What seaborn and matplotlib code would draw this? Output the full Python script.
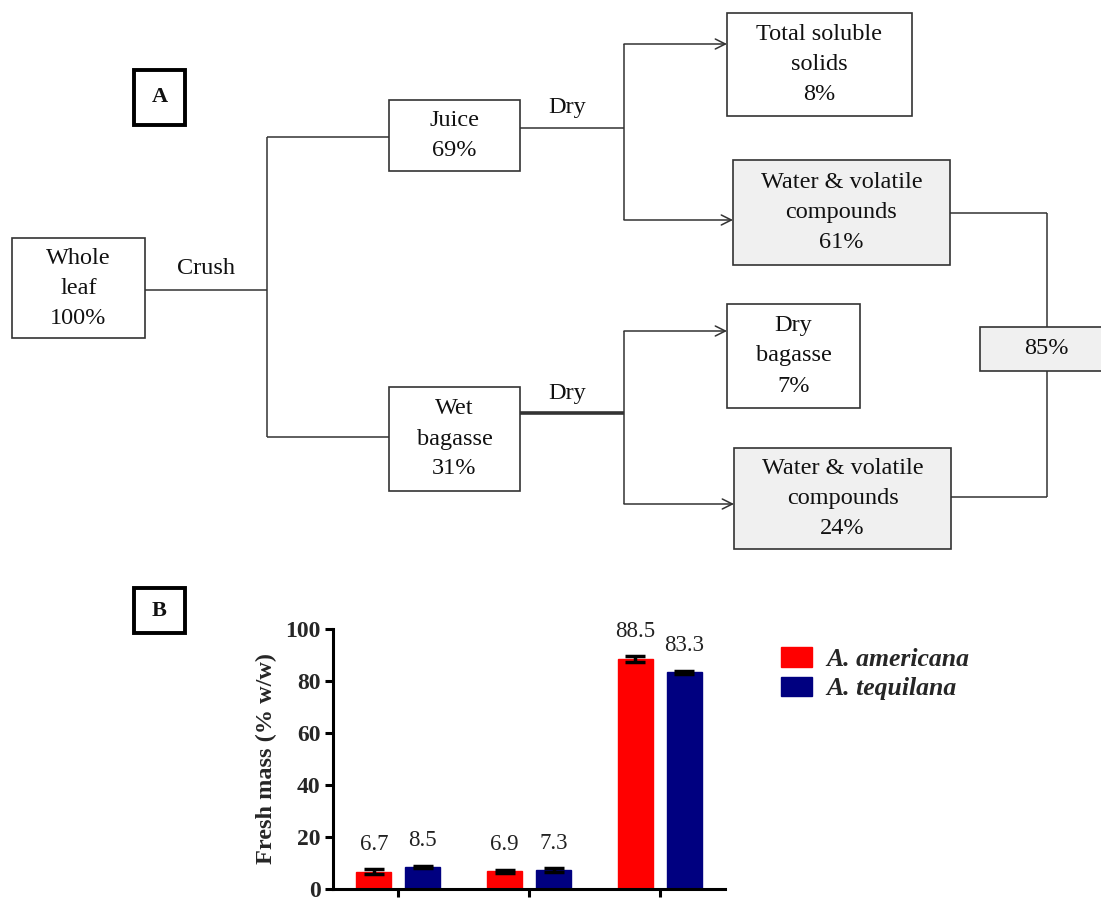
import matplotlib
matplotlib.use("Agg")
import matplotlib.pyplot as plt
import matplotlib.patches as mpatches
import numpy as np
import pandas as pd
import seaborn as sns

# ---------------- data ----------------
categories = ["Total soluble solids", "Dry bagasse", "Water & volatile"]
species = ["A. americana", "A. tequilana"]
americana_vals = [6.7, 6.9, 88.5]
tequilana_vals = [8.5, 7.3, 83.3]
americana_err = [1.0, 0.6, 1.2]
tequilana_err = [0.5, 0.8, 0.7]
palette_colors = ["#ff0000", "#000080"]
y_ticks = [0, 20, 40, 60, 80, 100]

# flow chart content
flow_whole = ["Whole", "leaf", "100%"]
flow_juice = ["Juice", "69%"]
flow_wet = ["Wet", "bagasse", "31%"]
flow_tss = ["Total soluble", "solids", "8%"]
flow_water1 = ["Water & volatile", "compounds", "61%"]
flow_drybag = ["Dry", "bagasse", "7%"]
flow_water2 = ["Water & volatile", "compounds", "24%"]
flow_total = "85%"

sns.set_theme(style="white")
plt.rcParams["font.family"] = ["Liberation Serif", "DejaVu Serif"]

fig = plt.figure(figsize=(11.01, 9.17), dpi=100)
fig.patch.set_facecolor("white")

# ---------------- panel A: flow chart (pixel coordinates) ----------------
fa = fig.add_axes([0, 0, 1, 1])
fa.set_xlim(0, 1101)
fa.set_ylim(917, 0)
fa.axis("off")

LC = "#333333"
FS = 17.5


def box(x0, y0, x1, y1, lines, fill="white", lw=1.2, weight="normal", fs=FS):
    fa.add_patch(mpatches.Rectangle((x0, y0), x1 - x0, y1 - y0, facecolor=fill,
                                    edgecolor=LC if lw < 2 else "black", lw=lw, zorder=2))
    cx = (x0 + x1) / 2
    n = len(lines)
    cy = (y0 + y1) / 2
    step = 30
    ys = [cy + (i - (n - 1) / 2) * step for i in range(n)]
    for t, yy in zip(lines, ys):
        fa.text(cx, yy, t, ha="center", va="center", fontsize=fs, color="#111111",
                weight=weight, zorder=3)


def line(xs, ys, lw=1.1):
    fa.plot(xs, ys, color=LC, lw=lw, solid_capstyle="butt", zorder=1)


def arrow(x0, x1, y):
    fa.annotate("", xy=(x1, y), xytext=(x0, y),
                arrowprops=dict(arrowstyle="->", color=LC, lw=1.1,
                                mutation_scale=18, shrinkA=0, shrinkB=0), zorder=1)

# panel labels
box(134, 70, 185, 125, ["A"], lw=2.8, weight="bold", fs=16)
box(134, 588, 185, 633, ["B"], lw=2.8, weight="bold", fs=16)

# boxes
box(12, 238, 145, 338, flow_whole)
box(389, 100, 520, 171, flow_juice)
box(389, 387, 520, 491, flow_wet)
box(727, 13, 912, 116, flow_tss)
box(733, 160, 950, 265, flow_water1, fill="#f0f0f0")
box(727, 304, 860, 408, flow_drybag)
box(734, 448, 951, 549, flow_water2, fill="#f0f0f0")
box(980, 327, 1112, 371, [flow_total], fill="#f0f0f0")

# connectors
fa.text(206, 269, "Crush", ha="center", va="center", fontsize=FS, color="#111111")
line([145, 267], [290, 290])
line([267, 267], [137, 437])
line([267, 389], [137, 137])
line([267, 389], [437, 437])

fa.text(567, 107, "Dry", ha="center", va="center", fontsize=FS, color="#111111")
line([520, 624], [128, 128])
line([624, 624], [44, 220])
arrow(624, 727, 44)
arrow(624, 733, 220)

fa.text(567, 393, "Dry", ha="center", va="center", fontsize=FS, color="#111111")
line([520, 624], [413, 413], lw=2.6)
line([624, 624], [331, 504])
arrow(624, 727, 331)
arrow(624, 734, 504)

line([950, 1047], [213, 213])
line([1047, 1047], [213, 327])
line([1047, 1047], [371, 497])
line([951, 1047], [497, 497])

# ---------------- panel B: bar chart ----------------
ax = fig.add_axes([333 / 1101, 1 - 889 / 917, (725 - 333) / 1101, (889 - 629) / 917])
ax.set_zorder(5)

df = pd.DataFrame({
    "category": categories * 2,
    "species": [species[0]] * 3 + [species[1]] * 3,
    "value": americana_vals + tequilana_vals,
})
sns.barplot(data=df, x="category", y="value", hue="species", order=categories,
            hue_order=species, palette=palette_colors, width=0.75, gap=0.28,
            errorbar=None, ax=ax, legend=False, saturation=1)

errs = americana_err + tequilana_err
vals = americana_vals + tequilana_vals
bars = ax.patches[:6]
for p, v, e in zip(bars, vals, errs):
    cx = p.get_x() + p.get_width() / 2
    p.set_edgecolor(p.get_facecolor())
    ax.errorbar(cx, v, yerr=e, color="black", capsize=7, capthick=2.5,
                elinewidth=2.5, zorder=4)
    ax.text(cx, v + e + 9.5, f"{v:.1f}", ha="center", va="center",
            fontsize=16.5, color="#222222")

ax.set_xlim(-0.5, 2.5)
ax.set_ylim(0, 100)
ax.set_yticks(y_ticks)
ax.set_xlabel("")
ax.set_ylabel("Fresh mass (% w/w)", fontsize=17.5, weight="bold", labelpad=6)
for s in ["top", "right"]:
    ax.spines[s].set_visible(False)
for s in ["left", "bottom"]:
    ax.spines[s].set_color("black")
    ax.spines[s].set_linewidth(2.2)
ax.tick_params(axis="both", direction="out", length=6, width=2.2, color="black",
               left=True, bottom=True, labelsize=17, pad=3)
for lab in ax.get_yticklabels():
    lab.set_fontweight("bold")
ax.set_xticks(range(len(categories)))
ax.set_xticklabels(categories, rotation=45, ha="right", rotation_mode="anchor",
                   fontsize=17, fontweight="bold")
ax.tick_params(axis="x", pad=14)
ax.set_facecolor("none")

handles = [mpatches.Patch(facecolor=c, edgecolor=c) for c in palette_colors]
leg = fig.legend(handles, species, loc="upper left",
                 bbox_to_anchor=(758 / 1101, 1 - 624 / 917), frameon=False,
                 prop={"family": "Liberation Serif", "size": 18.5, "weight": "bold",
                       "style": "italic"},
                 handlelength=1.2, handleheight=0.8, handletextpad=0.55,
                 labelspacing=0.22)

fig.savefig("out.png", dpi=100, facecolor="white")
